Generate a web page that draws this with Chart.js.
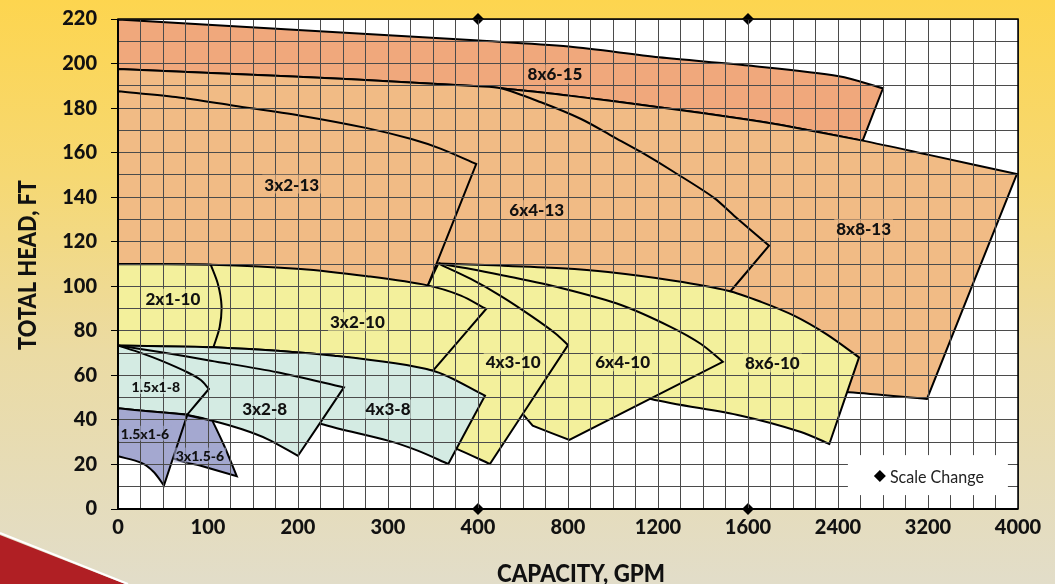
<!DOCTYPE html>
<html><head><meta charset="utf-8">
<script src="https://cdn.jsdelivr.net/npm/chart.js@4.4.1/dist/chart.umd.min.js"></script>
<style>html,body{margin:0;padding:0;background:#E3DEC8;overflow:hidden}canvas{display:block}</style>
</head><body>
<canvas id="c" width="1055" height="584"></canvas>
<script>
// ---- axis definition (piecewise GPM scale: each major division is one step) ----
const xTickLabels = ['0','100','200','300','400','800','1200','1600','2400','3200','4000'];
const xBreaks = [0,100,200,300,400,800,1200,1600,2400,3200,4000];
const scaleChangeGPM = [400, 1600];
const headMax = 220;

// ---- pump coverage regions: [GPM, FT] outline points ----
const pump8x6_15 = [[0,219.8],[200,215.1],[404,210.3],[804,207.6],[1204,202.8],[1604,199.1],[2409,194.3],[2800,188.9],[2619,165.4],[1894,172.4],[1604,174.8],[1204,180.4],[804,185.6],[502,188.9],[401,189.8],[259,192.9],[129,195.3],[0,197.6]];
const pump8x8_13 = [[502,188.9],[804,185.6],[1204,180.4],[1604,174.8],[1894,172.4],[2619,165.4],[3209,159.0],[3990,150.4],[3191,49.4],[2498,52.4],[1391,56.1],[947,98.8]];
const pump6x4_13 = [[0,197.6],[129,195.3],[259,192.9],[401,189.8],[502,188.9],[680,182.6],[858,175.1],[1004,167.0],[1124,160.3],[1271,151.3],[1449,139.7],[1538,131.7],[1787,118.2],[1524,98.0],[1100,95],[500,100],[300,100],[0,100]];
const pump3x2_13 = [[0,187.6],[64,185.0],[129,181.1],[203,176.6],[278,170.9],[326,166.1],[359,161.7],[398,154.9],[344,100.1],[250,100],[0,106]];
const pump8x6_10 = [[356,110.2],[502,109.3],[769,108.1],[978,106.4],[1271,102.5],[1511,98.0],[1716,93.0],[2009,86.8],[2293,78.6],[2587,68.1],[2323,29.2],[2071,34.6],[1569,41.9],[1169,49.4],[1036,54.7],[769,94.3]];
const pump6x4_10 = [[356,110.2],[392,107.8],[502,105.1],[769,99.2],[1036,91.6],[1258,81.7],[1391,74.1],[1488,66.1],[806,31.0],[643,37.4],[599,42.7],[392,49.4],[392,94.3]];
const pump4x3_10 = [[356,110.2],[392,103.3],[502,95.6],[636,86.7],[747,78.6],[800,73.6],[453,20.2],[377,26.9],[348,31.4],[331,89.8],[344,100.1]];
const pump3x2_10 = [[0,110.0],[103,109.7],[203,107.8],[277,104.5],[344,100.4],[381,95.8],[436,89.8],[350,62.1],[240,68.8],[107,72.6],[0,73.4]];
const pump2x1_10 = [[0,110.0],[103,109.7],[111,101.0],[115,91.3],[113,81.7],[106,72.6],[0,73.4]];
const pump4x3_8 = [[0,73.4],[107,72.6],[240,68.8],[350,62.1],[431,50.9],[367,20.2],[333,26.2],[300,30.7],[226,38.2],[148,49],[0,58]];
const pump3x2_8 = [[0,73.4],[50,70.3],[103,66.6],[177,61.4],[251,54.6],[200,23.9],[166,31.4],[137,35.9],[105,39.6],[77,42.2],[0,45.2]];
const pump1_5x1_8 = [[0,73.4],[26,70.0],[48,66.6],[77,61.4],[92,57.9],[101,53.9],[77,42.4],[37,43.8],[0,45.2]];
const pump3x1_5_6 = [[76,42.2],[105,39.6],[118,28.4],[132,14.7],[92,19.4],[61,22.8],[37,31.4]];
const pump1_5x1_6 = [[0,45.2],[37,43.8],[77,42.3],[51,10.5],[40,16.5],[26,20.7],[0,23.7]];

// front-to-back drawing order
const regionNames = ['1.5x1-6','3x1.5-6','1.5x1-8','3x2-8','4x3-8','2x1-10','3x2-10','4x3-10','6x4-10','8x6-10','3x2-13','6x4-13','8x8-13','8x6-15'];
const regionPoints = [pump1_5x1_6,pump3x1_5_6,pump1_5x1_8,pump3x2_8,pump4x3_8,pump2x1_10,pump3x2_10,pump4x3_10,pump6x4_10,pump8x6_10,pump3x2_13,pump6x4_13,pump8x8_13,pump8x6_15];

// label anchors [name, GPM, FT]
const labelAnchors = [['8x6-15',742,195.3],['3x2-13',193,145.9],['6x4-13',661,134.4],['8x8-13',2628,126.0],
  ['2x1-10',61,94.6],['3x2-10',266,84.1],['4x3-10',556,66.1],['6x4-10',1043,66.1],['8x6-10',1816,65.6],
  ['1.5x1-8',42,55.1],['3x2-8',163,45.2],['4x3-8',300,44.9],['1.5x1-6',30,34.0],['3x1.5-6',91,24.2]];
const smallLabels = ['1.5x1-8','1.5x1-6','3x1.5-6'];

// ---- styles ----
const COL = {'15':'#F0A87C','13':'#F1BB85','10':'#F3F09C','8':'#D4EBE3','6':'#A4A8D0'};
const colorOf = n => COL[n.split('-')[1]];
const FONT = 'Lato, "Open Sans", sans-serif';

function toU(g){
  for(let i=0;i<xBreaks.length-1;i++){
    if(g<=xBreaks[i+1]) return i + (g-xBreaks[i])/(xBreaks[i+1]-xBreaks[i]);
  }
  return xBreaks.length-1;
}
// closed outline; sharp corners are doubled so the smoothing keeps them pointed
function toPts(arr){
  const p = arr.map(([g,f])=>({x:toU(g),y:f}));
  const n = p.length, out = [];
  for(let i=0;i<n;i++){
    const a=p[(i-1+n)%n], b=p[i], c=p[(i+1)%n];
    const v1x=(b.x-a.x)*90, v1y=(b.y-a.y)*2.23, v2x=(c.x-b.x)*90, v2y=(c.y-b.y)*2.23;
    const ang=Math.abs(Math.atan2(v1x*v2y-v1y*v2x, v1x*v2x+v1y*v2y))*180/Math.PI;
    out.push(b); if(ang>28 || i===0) out.push({x:b.x,y:b.y});
  }
  out.push({x:p[0].x,y:p[0].y});
  return out;
}

const datasets = regionNames.map((n,i)=>({
  label:n, data:toPts(regionPoints[i]), showLine:true, fill:'shape',
  backgroundColor:colorOf(n), borderColor:'#000', borderWidth:2, pointRadius:0, pointHoverRadius:0,
  tension:0.3, order:i+1
}));
datasets.push({
  label:'Scale Change',
  data: scaleChangeGPM.flatMap(g=>[{x:toU(g),y:headMax},{x:toU(g),y:0}]),
  showLine:false, pointStyle:'rectRot', pointRadius:6, pointHoverRadius:6,
  backgroundColor:'#000', borderColor:'#000', borderWidth:0, order:0, clip:false
});

function drawFitText(ctx, text, x, y, targetW, rot){
  ctx.save(); ctx.translate(x,y); if(rot) ctx.rotate(rot);
  const w = ctx.measureText(text).width; ctx.scale(targetW/w,1);
  ctx.fillText(text,0,0); ctx.restore();
}

const decor = {
  id:'decor',
  beforeDraw(chart){
    const ctx=chart.ctx, W=chart.width, H=chart.height, a=chart.chartArea;
    ctx.save();
    const g=ctx.createLinearGradient(0,0,0,H);
    g.addColorStop(0,'#FDD54F'); g.addColorStop(0.3,'#F6D872'); g.addColorStop(0.6,'#EBDBA3'); g.addColorStop(1,'#E2DDC9');
    ctx.fillStyle=g; ctx.fillRect(0,0,W,H);
    ctx.beginPath(); ctx.moveTo(0,535); ctx.lineTo(125,H); ctx.lineTo(0,H); ctx.closePath();
    ctx.fillStyle='#B01F24'; ctx.fill();
    ctx.beginPath(); ctx.moveTo(0,533); ctx.lineTo(128,H); ctx.strokeStyle='#ffffff'; ctx.lineWidth=2; ctx.stroke();
    ctx.fillStyle='#ffffff'; ctx.fillRect(a.left,a.top,a.right-a.left,a.bottom-a.top);
    ctx.restore();
  },
  afterDraw(chart){
    const ctx=chart.ctx, a=chart.chartArea, xs=chart.scales.x, ys=chart.scales.y;
    ctx.save();
    ctx.strokeStyle='#000'; ctx.lineWidth=1.5;
    ctx.strokeRect(a.left,a.top,a.right-a.left,a.bottom-a.top);
    ctx.lineWidth=2;
    ctx.beginPath(); ctx.moveTo(a.left,a.top); ctx.lineTo(a.left,a.bottom); ctx.lineTo(a.right,a.bottom); ctx.stroke();
    // region labels
    ctx.textAlign='center'; ctx.textBaseline='middle';
    labelAnchors.forEach(([n,g,f])=>{
      const x=xs.getPixelForValue(toU(g)), y=ys.getPixelForValue(f);
      const small=smallLabels.includes(n);
      ctx.font=`900 ${small?14:17}px ${FONT}`;
      const w=ctx.measureText(n).width, h=small?15:19;
      ctx.globalAlpha=0.6; ctx.fillStyle=colorOf(n); ctx.fillRect(x-w/2-2,y-h/2,w+4,h); ctx.globalAlpha=1;
      ctx.fillStyle='#111'; ctx.fillText(n,x,y+1);
    });
    // legend box
    const lx=xs.getPixelForValue(8.11), ly=ys.getPixelForValue(24.2);
    ctx.fillStyle='#fff'; ctx.fillRect(lx,ly,160,40);
    const dx=lx+32, dy=ly+21;
    ctx.fillStyle='#000'; ctx.beginPath(); ctx.moveTo(dx,dy-6); ctx.lineTo(dx+6,dy); ctx.lineTo(dx,dy+6); ctx.lineTo(dx-6,dy); ctx.closePath(); ctx.fill();
    ctx.font=`17px ${FONT}`; ctx.textAlign='left'; ctx.fillStyle='#222';
    drawFitText(ctx,'Scale Change',dx+10,dy+1,94,0);
    // axis titles
    ctx.fillStyle='#111'; ctx.font=`900 24px ${FONT}`; ctx.textAlign='center'; ctx.textBaseline='alphabetic';
    drawFitText(ctx,'CAPACITY, GPM',581,582,168,0);
    drawFitText(ctx,'TOTAL HEAD, FT',36,265,170,-Math.PI/2);
    ctx.restore();
  }
};

new Chart(document.getElementById('c'),{
  type:'scatter',
  data:{datasets},
  options:{
    responsive:false, animation:false, events:[],
    layout:{padding:{left:0,right:37,top:19,bottom:0}},
    plugins:{legend:{display:false},tooltip:{enabled:false}},
    scales:{
      x:{type:'linear',min:0,max:xBreaks.length-1,
        afterFit:s=>{s.height=75;s.paddingLeft=0;s.paddingRight=0;},
        border:{display:false},
        grid:{z:1,color:'#4b4b4b',lineWidth:1,drawTicks:false},
        ticks:{z:2,stepSize:0.25,autoSkip:false,maxRotation:0,minRotation:0,padding:7,color:'#111',
          font:{family:FONT,size:20,weight:'900'},
          callback:v=>{const r=Math.round(v);return Math.abs(v-r)<1e-6?xTickLabels[r]:'';}}},
      y:{type:'linear',min:0,max:headMax,
        afterFit:s=>{s.width=118;s.paddingTop=0;s.paddingBottom=0;},
        border:{display:false},
        grid:{z:1,color:'#4b4b4b',lineWidth:1,tickLength:7,
          tickColor:c=>(c.tick&&Math.round(c.tick.value)%20===0)?'#000':'rgba(0,0,0,0)'},
        ticks:{z:2,stepSize:10,autoSkip:false,padding:14,color:'#111',
          font:{family:FONT,size:20,weight:'900'},
          callback:v=>(Math.round(v)%20===0?String(Math.round(v)):'')}}
    }
  },
  plugins:[decor]
});
</script>
</body></html>
